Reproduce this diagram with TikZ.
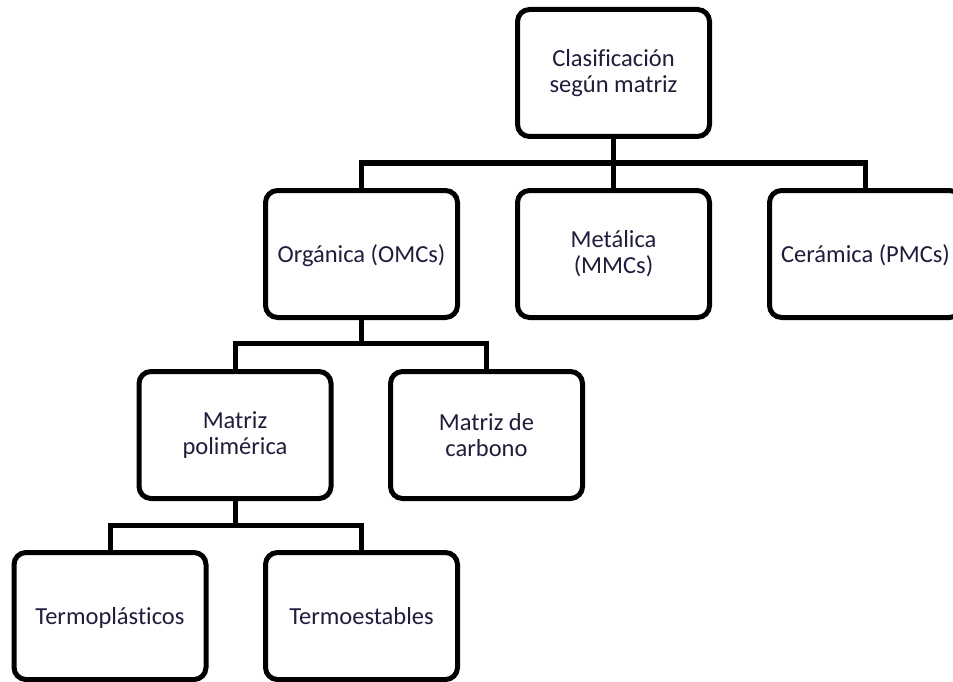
\documentclass[tikz,border=0pt]{standalone}
\usepackage{fontspec}
\setmainfont{Carlito}[Ligatures=CommonOff]
\definecolor{txt}{RGB}{30,30,60}
\begin{document}
\begin{tikzpicture}[x=1pt,y=-1pt,
  box/.style={draw=black, line width=5pt, rounded corners=12pt, fill=white,
    minimum width=192pt, minimum height=127pt, align=center, inner sep=2pt,
    text=txt, font=\fontsize{24.5pt}{26pt}\selectfont},
  conn/.style={draw=black, line width=5pt}]
\useasboundingbox (0,0) rectangle (953,682);
\clip (0,0) rectangle (953,682);
\fill[white] (0,0) rectangle (953,682);
\coordinate (b1) at (0,163);
\coordinate (b2) at (0,343);
\coordinate (b3) at (0,525);
\node[box] (top) at (613.5,73) {Clasificación\\según matriz};
\node[box] (org) at (361.5,254) {\vphantom{Áp}Orgánica (OMCs)};
\node[box] (met) at (613.5,254) {Metálica\\(MMCs)};
\node[box] (cer) at (865.5,254) {\vphantom{Áp}Cerámica (PMCs)};
\node[box] (pol) at (235,435) {Matriz\\polimérica};
\node[box] (car) at (486.5,435) {Matriz de\\carbono};
\node[box] (tpl) at (110,616) {\vphantom{Áp}Termoplásticos};
\node[box] (tes) at (361.5,616) {\vphantom{Áp}Termoestables};
\draw[conn] (top.south) -- (top.south |- b1);
\draw[conn] (org.north) |- (cer.north |- b1) -- (cer.north);
\draw[conn] (met.north) -- (met.north |- b1);
\draw[conn] (org.south) -- (org.south |- b2);
\draw[conn] (pol.north) |- (car.north |- b2) -- (car.north);
\draw[conn] (pol.south) -- (pol.south |- b3);
\draw[conn] (tpl.north) |- (tes.north |- b3) -- (tes.north);
\end{tikzpicture}
\end{document}
